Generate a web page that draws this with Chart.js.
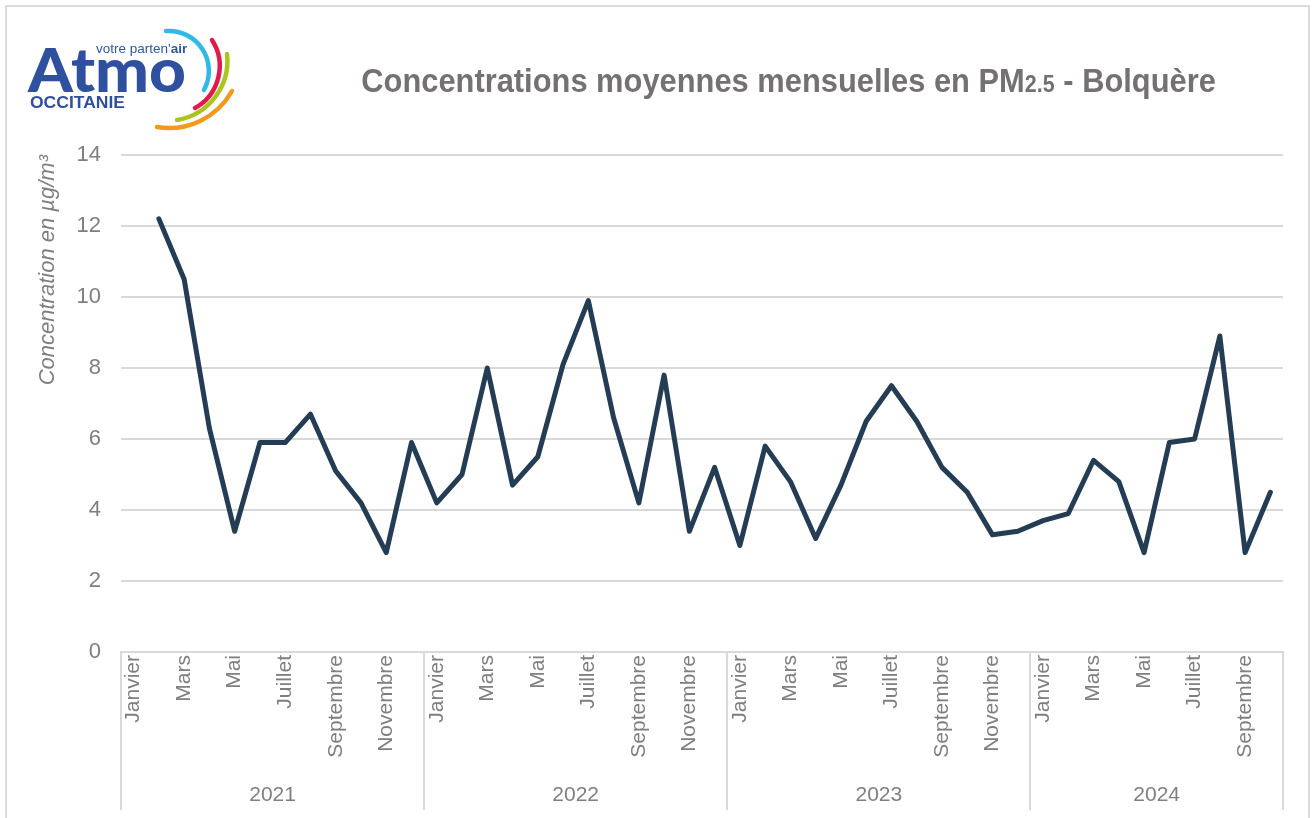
<!DOCTYPE html>
<html lang="fr">
<head>
<meta charset="utf-8">
<script src="https://cdn.jsdelivr.net/npm/chart.js@4.4.1/dist/chart.umd.min.js"></script>
<style>
	html, body { margin: 0; padding: 0; background: #fff; }
	#wrap { position: relative; width: 1314px; height: 818px; overflow: hidden; }
	#frame { position: absolute; left: 5px; top: 5px; width: 1305px; height: 830px; border: 2px solid #dcdcdc; box-sizing: border-box; pointer-events: none; }
	#chart { position: absolute; left: 0; top: 0; }
	#title { position: absolute; left: 332px; top: 62px; width: 900px; text-align: center; font-family: 'Liberation Sans', Arial, sans-serif; font-weight: bold; font-size: 33px; color: #767171; white-space: nowrap; transform: scaleX(0.935); transform-origin: 450px 0; }
	#title small { font-size: 23px; }
	#logo { position: absolute; left: 0; top: 0; width: 260px; height: 140px; }
</style>
</head>
<body>
<div id="wrap">
	<canvas id="chart" width="1314" height="818"></canvas>
	<div id="title">Concentrations moyennes mensuelles en PM<small>2.5</small> - Bolquère</div>
	<svg id="logo" viewBox="0 0 260 140">
		<text x="96" y="53" font-family="Liberation Sans, sans-serif" font-size="13.5" fill="#2f55a4">votre parten'<tspan font-weight="bold">air</tspan></text>
		<text x="28" y="92" font-family="Lato, Liberation Sans, sans-serif" font-weight="900" font-size="60" fill="#2f4f9f" textLength="158" lengthAdjust="spacingAndGlyphs">Atmo</text>
		<text x="30" y="108" font-family="Liberation Sans, sans-serif" font-weight="bold" font-size="17" fill="#2f4f9f" textLength="95" lengthAdjust="spacingAndGlyphs">OCCITANIE</text>
		<g fill="none" stroke-width="4.5" stroke-linecap="round">
			<path d="M166 31 A40 40 0 0 1 204 90" stroke="#2fb9e6"/>
			<path d="M212 40 A48 48 0 0 1 195 108" stroke="#e3184b"/>
			<path d="M227 54 A60 60 0 0 1 177 120" stroke="#a9c61e"/>
			<path d="M232 91 A72 72 0 0 1 157 127" stroke="#f39a1e"/>
		</g>
	</svg>
	<div id="frame"></div>
</div>
<script>
const monthNames = ['Janvier', 'Février', 'Mars', 'Avril', 'Mai', 'Juin', 'Juillet', 'Août', 'Septembre', 'Octobre', 'Novembre', 'Décembre'];
const years = ['2021', '2022', '2023', '2024'];
const monthsPerYear = [12, 12, 12, 10];

// PM2.5 monthly means (µg/m3), janvier 2021 -> octobre 2024
const pm25_2021 = [null, 12.2, 10.5, 6.3, 3.4, 5.9, 5.9, 6.7, 5.1, 4.2, 2.8, 5.9];
const pm25_2022 = [4.2, 5.0, 8.0, 4.7, 5.5, 8.1, 9.9, 6.6, 4.2, 7.8, 3.4, 5.2];
const pm25_2023 = [3.0, 5.8, 4.8, 3.2, 4.7, 6.5, 7.5, 6.5, 5.2, 4.5, 3.3, 3.4];
const pm25_2024 = [3.7, 3.9, 5.4, 4.8, 2.8, 5.9, 6.0, 8.9, 2.8, 4.5];

const yTicks = [0, 2, 4, 6, 8, 10, 12, 14];

const labels = [];
years.forEach((y, i) => {
	for (let m = 0; m < monthsPerYear[i]; m++) labels.push(monthNames[m]);
});
const values = [].concat(pm25_2021, pm25_2022, pm25_2023, pm25_2024);

const grey = '#7f7f7f';
const lineGrey = '#d9d9d9';
const fontFam = '"Liberation Sans Narrow", "Arial Narrow", "Liberation Sans", sans-serif';

// draws the year row + separators under the month labels
const yearAxis = {
	id: 'yearAxis',
	afterDraw(chart) {
		const ctx = chart.ctx;
		const x = chart.scales.x;
		const area = chart.chartArea;
		const w = (x.right - x.left) / labels.length;
		ctx.save();
		ctx.strokeStyle = lineGrey;
		ctx.lineWidth = 2;
		let idx = 0;
		const bounds = [0];
		monthsPerYear.forEach((n) => { idx += n; bounds.push(idx); });
		bounds.forEach((b) => {
			const px = Math.round(x.left + b * w);
			ctx.beginPath();
			ctx.moveTo(px, area.bottom);
			ctx.lineTo(px, 810);
			ctx.stroke();
		});
		ctx.fillStyle = grey;
		ctx.font = '21px ' + fontFam;
		ctx.textAlign = 'center';
		ctx.textBaseline = 'middle';
		years.forEach((y, i) => {
			const mid = x.left + (bounds[i] + bounds[i + 1]) / 2 * w;
			ctx.fillText(y, mid, 795);
		});
		ctx.restore();
	}
};

new Chart(document.getElementById('chart'), {
	type: 'line',
	data: {
		labels: labels,
		datasets: [{
			data: values,
			borderColor: '#243d55',
			borderWidth: 5,
			pointRadius: 0,
			tension: 0,
			spanGaps: false,
			borderJoinStyle: 'round',
			borderCapStyle: 'round',
		}],
	},
	options: {
		responsive: false,
		animation: false,
		layout: { padding: { top: 155, right: 31, bottom: 0, left: 0 } },
		plugins: {
			legend: { display: false },
			tooltip: { enabled: false },
		},
		scales: {
			x: {
				offset: true,
				grid: { display: false },
				border: { display: true, color: lineGrey, width: 2 },
				ticks: {
					autoSkip: false,
					minRotation: 90,
					maxRotation: 90,
					padding: -5,
					color: grey,
					font: { family: fontFam, size: 21 },
					callback: function (val, i) {
						return (i % 12) % 2 === 0 ? labels[i] : '';
					},
				},
				afterFit: function (scale) { scale.height = 166; },
			},
			y: {
				min: 0,
				max: 14,
				afterBuildTicks: function (scale) {
					scale.ticks = yTicks.map((v) => ({ value: v }));
				},
				grid: { color: lineGrey, lineWidth: 2, drawTicks: false },
				border: { display: false },
				ticks: {
					padding: 20,
					color: grey,
					font: { family: fontFam, size: 22 },
				},
				title: {
					display: true,
					text: 'Concentration en µg/m³',
					align: 'end',
					color: grey,
					padding: { top: 35, bottom: 0 },
					font: { family: fontFam, size: 22, style: 'italic' },
				},
				afterFit: function (scale) { scale.width = 121; },
			},
		},
	},
	plugins: [yearAxis],
});
</script>
</body>
</html>
